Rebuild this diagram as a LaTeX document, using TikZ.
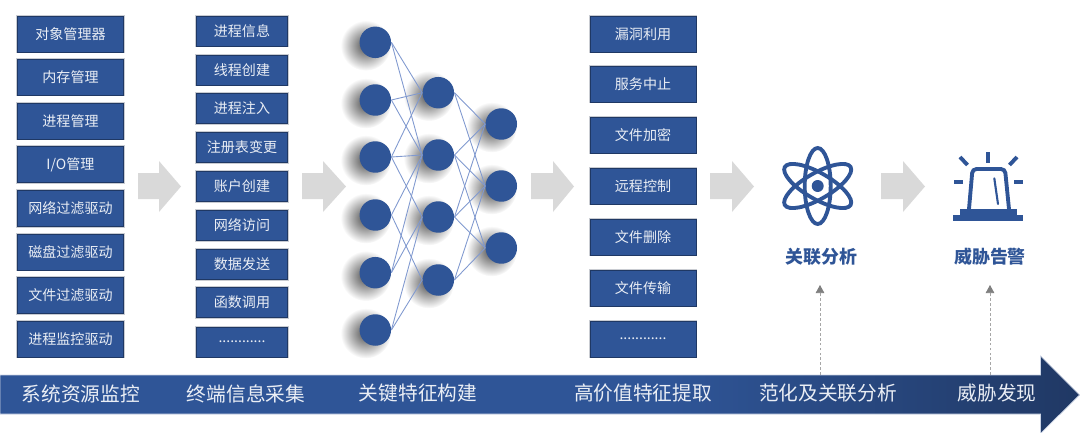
\documentclass[tikz,border=0pt]{standalone}
\usepackage{fontspec}
\newfontfamily\cjk{Noto Sans CJK SC}
\usetikzlibrary{positioning,arrows.meta,shadows,fadings}
\definecolor{boxblue}{HTML}{2F5597}
\definecolor{boxedge}{HTML}{1F3864}
\definecolor{halogray}{HTML}{C9CCD2}
\definecolor{arrowgray}{HTML}{D9D9D9}
\definecolor{wireblue}{HTML}{8099CF}
\definecolor{bardark}{HTML}{203864}
\definecolor{dashgray}{HTML}{A6A6A6}
\definecolor{tipgray}{HTML}{7F7F7F}
\pgfdeclarehorizontalshading{barshade}{100bp}{color(0bp)=(boxblue); color(56bp)=(boxblue); color(75bp)=(bardark); color(100bp)=(bardark)}
\tikzfading[name=softblob,inner color=transparent!30,outer color=transparent!100]
\tikzset{
  boxnode/.style={rectangle,fill=boxblue,draw=boxedge,line width=.5pt,preaction={draw=halogray,line width=1.4pt},
    text=white!90!boxblue,inner sep=0pt,font=\cjk\fontsize{8pt}{9pt}\selectfont},
  srcbox/.style={boxnode,minimum width=2.12cm,minimum height=.72cm},
  infobox/.style={boxnode,minimum width=1.82cm,minimum height=.6cm},
  highbox/.style={boxnode,minimum width=2.12cm,minimum height=.72cm},
  neuron/.style={circle,fill=boxblue,inner sep=0pt,minimum size=.63cm,
    general shadow={fill=black,path fading=softblob,shadow scale=1.6,shadow xshift=-.12cm,shadow yshift=-.04cm}},
  wire/.style={draw=wireblue,line width=.5pt},
  stagelabel/.style={text=white!90!boxblue,inner sep=0pt,font=\cjk\fontsize{11.2pt}{13pt}\selectfont},
  resultlabel/.style={text=boxblue,inner sep=0pt,font=\cjk\bfseries\fontsize{10.2pt}{12pt}\selectfont},
  bigarrow/.style={fill=arrowgray},
  icon/.style={draw=boxblue,line width=2.2pt,line cap=round},
  probe/.style={draw=dashgray,line width=.4pt,dash pattern=on 1.6pt off 1.2pt,-{Triangle[length=.16cm,width=.17cm,color=tipgray]}}
}
\begin{document}
\begin{tikzpicture}[x=.02cm,y=-.02cm]
  \useasboundingbox (0,0) rectangle (1080,433);
  \node[srcbox] (src1) at (70.5,34) {对象管理器};
  \node[srcbox] (src2) at (70.5,77) {内存管理};
  \node[srcbox] (src3) at (70.5,121) {进程管理};
  \node[srcbox] (src4) at (70.5,164.5) {I/O管理};
  \node[srcbox] (src5) at (70.5,208.5) {网络过滤驱动};
  \node[srcbox] (src6) at (70.5,252) {磁盘过滤驱动};
  \node[srcbox] (src7) at (70.5,295.5) {文件过滤驱动};
  \node[srcbox] (src8) at (70.5,339) {进程监控驱动};

  \node[infobox] (info1) at (242,31) {进程信息};
  \node[infobox] (info2) at (242,70) {线程创建};
  \node[infobox] (info3) at (242,108.5) {进程注入};
  \node[infobox] (info4) at (242,147.5) {注册表变更};
  \node[infobox] (info5) at (242,186.5) {账户创建};
  \node[infobox] (info6) at (242,225.5) {网络访问};
  \node[infobox] (info7) at (242,264.5) {数据发送};
  \node[infobox] (info8) at (242,302.5) {函数调用};
  \node[infobox] (info9) at (242,342) {............};

  \node[highbox] (high1) at (643,34) {漏洞利用};
  \node[highbox] (high2) at (643,84) {服务中止};
  \node[highbox] (high3) at (643,135) {文件加密};
  \node[highbox] (high4) at (643,186) {远程控制};
  \node[highbox] (high5) at (643,237) {文件删除};
  \node[highbox] (high6) at (643,288) {文件传输};
  \node[highbox] (high7) at (643,339) {............};

  \node[neuron] (a1) at (375.3,42.3) {};
  \node[neuron] (a2) at (375.3,100) {};
  \node[neuron] (a3) at (375.3,157) {};
  \node[neuron] (a4) at (375.3,215) {};
  \node[neuron] (a5) at (375.3,272.7) {};
  \node[neuron] (a6) at (375.3,330) {};
  \node[neuron] (b1) at (438.3,92.7) {};
  \node[neuron] (b2) at (438.3,155) {};
  \node[neuron] (b3) at (438.3,217) {};
  \node[neuron] (b4) at (438.3,280) {};
  \node[neuron] (c1) at (501.3,124) {};
  \node[neuron] (c2) at (501.3,186) {};
  \node[neuron] (c3) at (501.3,248) {};

  \draw[wire] (a1.east) -- (b1.west); \draw[wire] (a1.east) -- (b2.west);
  \draw[wire] (a2.east) -- (b1.west); \draw[wire] (a2.east) -- (b2.west);
  \draw[wire] (a3.east) -- (b1.west); \draw[wire] (a3.east) -- (b2.west); \draw[wire] (a3.east) -- (b3.west);
  \draw[wire] (a4.east) -- (b2.west); \draw[wire] (a4.east) -- (b4.west);
  \draw[wire] (a5.east) -- (b2.west); \draw[wire] (a5.east) -- (b3.west);
  \draw[wire] (a6.east) -- (b3.west); \draw[wire] (a6.east) -- (b4.west);
  \draw[wire] (b1.east) -- (c1.west); \draw[wire] (b1.east) -- (c2.west);
  \draw[wire] (b2.east) -- (c1.west); \draw[wire] (b2.east) -- (c2.west); \draw[wire] (b2.east) -- (c3.west);
  \draw[wire] (b3.east) -- (c1.west); \draw[wire] (b3.east) -- (c2.west); \draw[wire] (b3.east) -- (c3.west);
  \draw[wire] (b4.east) -- (c2.west); \draw[wire] (b4.east) -- (c3.west);

  \fill[bigarrow] (138,173) -- (159,173) -- (159,161) -- (181,186.5) -- (159,212) -- (159,199) -- (138,199) -- cycle;
  \fill[bigarrow] (302,173) -- (323,173) -- (323,161) -- (346,186.5) -- (323,212) -- (323,199) -- (302,199) -- cycle;
  \fill[bigarrow] (531,173) -- (553,173) -- (553,161) -- (574,186.5) -- (553,212) -- (553,199) -- (531,199) -- cycle;
  \fill[bigarrow] (710,173) -- (732,173) -- (732,161) -- (754,186.5) -- (732,212) -- (732,199) -- (710,199) -- cycle;
  \fill[bigarrow] (881,173) -- (903,173) -- (903,161) -- (925,186.5) -- (903,212) -- (903,199) -- (881,199) -- cycle;

  \draw[icon] (817.7,186) ellipse [x radius=.26cm,y radius=.76cm];
  \draw[icon,rotate around={60:(817.7,186)}] (817.7,186) ellipse [x radius=.26cm,y radius=.76cm];
  \draw[icon,rotate around={-60:(817.7,186)}] (817.7,186) ellipse [x radius=.26cm,y radius=.76cm];
  \fill[boxblue] (817.7,186) circle (.12cm);

  \draw[icon,line width=1.2pt] (994.3,178.3) -- (998,204);
  \draw[icon,rounded corners=.08cm] (969,209) -- (972.5,169) -- (1005,169) -- (1009,209);
  \fill[boxblue] (960,209) rectangle (1017,215);
  \fill[boxblue] (953,215) rectangle (1023,221);
  \draw[icon,line cap=butt] (988.3,152) -- (988.3,163);
  \draw[icon,line cap=butt] (960,157) -- (967.5,165);
  \draw[icon,line cap=butt] (1017,157) -- (1009.5,165);
  \draw[icon,line cap=butt] (954,181.7) -- (963,181.7);
  \draw[icon,line cap=butt] (1014,181.7) -- (1022.5,181.7);

  \node[resultlabel] (corr) at (821.7,257) {关联分析};
  \node[resultlabel] (alarm) at (990,257) {威胁告警};

  \path[shading=barshade,draw=white!75!boxblue,line width=.4pt] (0,375) -- (1040.5,375) -- (1040.5,356) -- (1079.5,395) -- (1040.5,433.5) -- (1040.5,414) -- (0,414) -- cycle;
  \coordinate (corrfoot) at (820,375);
  \coordinate (corrtop) at (820,285);
  \coordinate (alarmfoot) at (990,375);
  \coordinate (alarmtop) at (990,285);
  \draw[probe] (corrfoot) -- (corrtop);
  \draw[probe] (alarmfoot) -- (alarmtop);

  \node[stagelabel] (stage1) at (81,393.5) {系统资源监控};
  \node[stagelabel] (stage2) at (246,393.5) {终端信息采集};
  \node[stagelabel] (stage3) at (418,393.5) {关键特征构建};
  \node[stagelabel] (stage4) at (643,393.5) {高价值特征提取};
  \node[stagelabel] (stage5) at (828,393.5) {范化及关联分析};
  \node[stagelabel] (stage6) at (997,393.5) {威胁发现};
\end{tikzpicture}
\end{document}
